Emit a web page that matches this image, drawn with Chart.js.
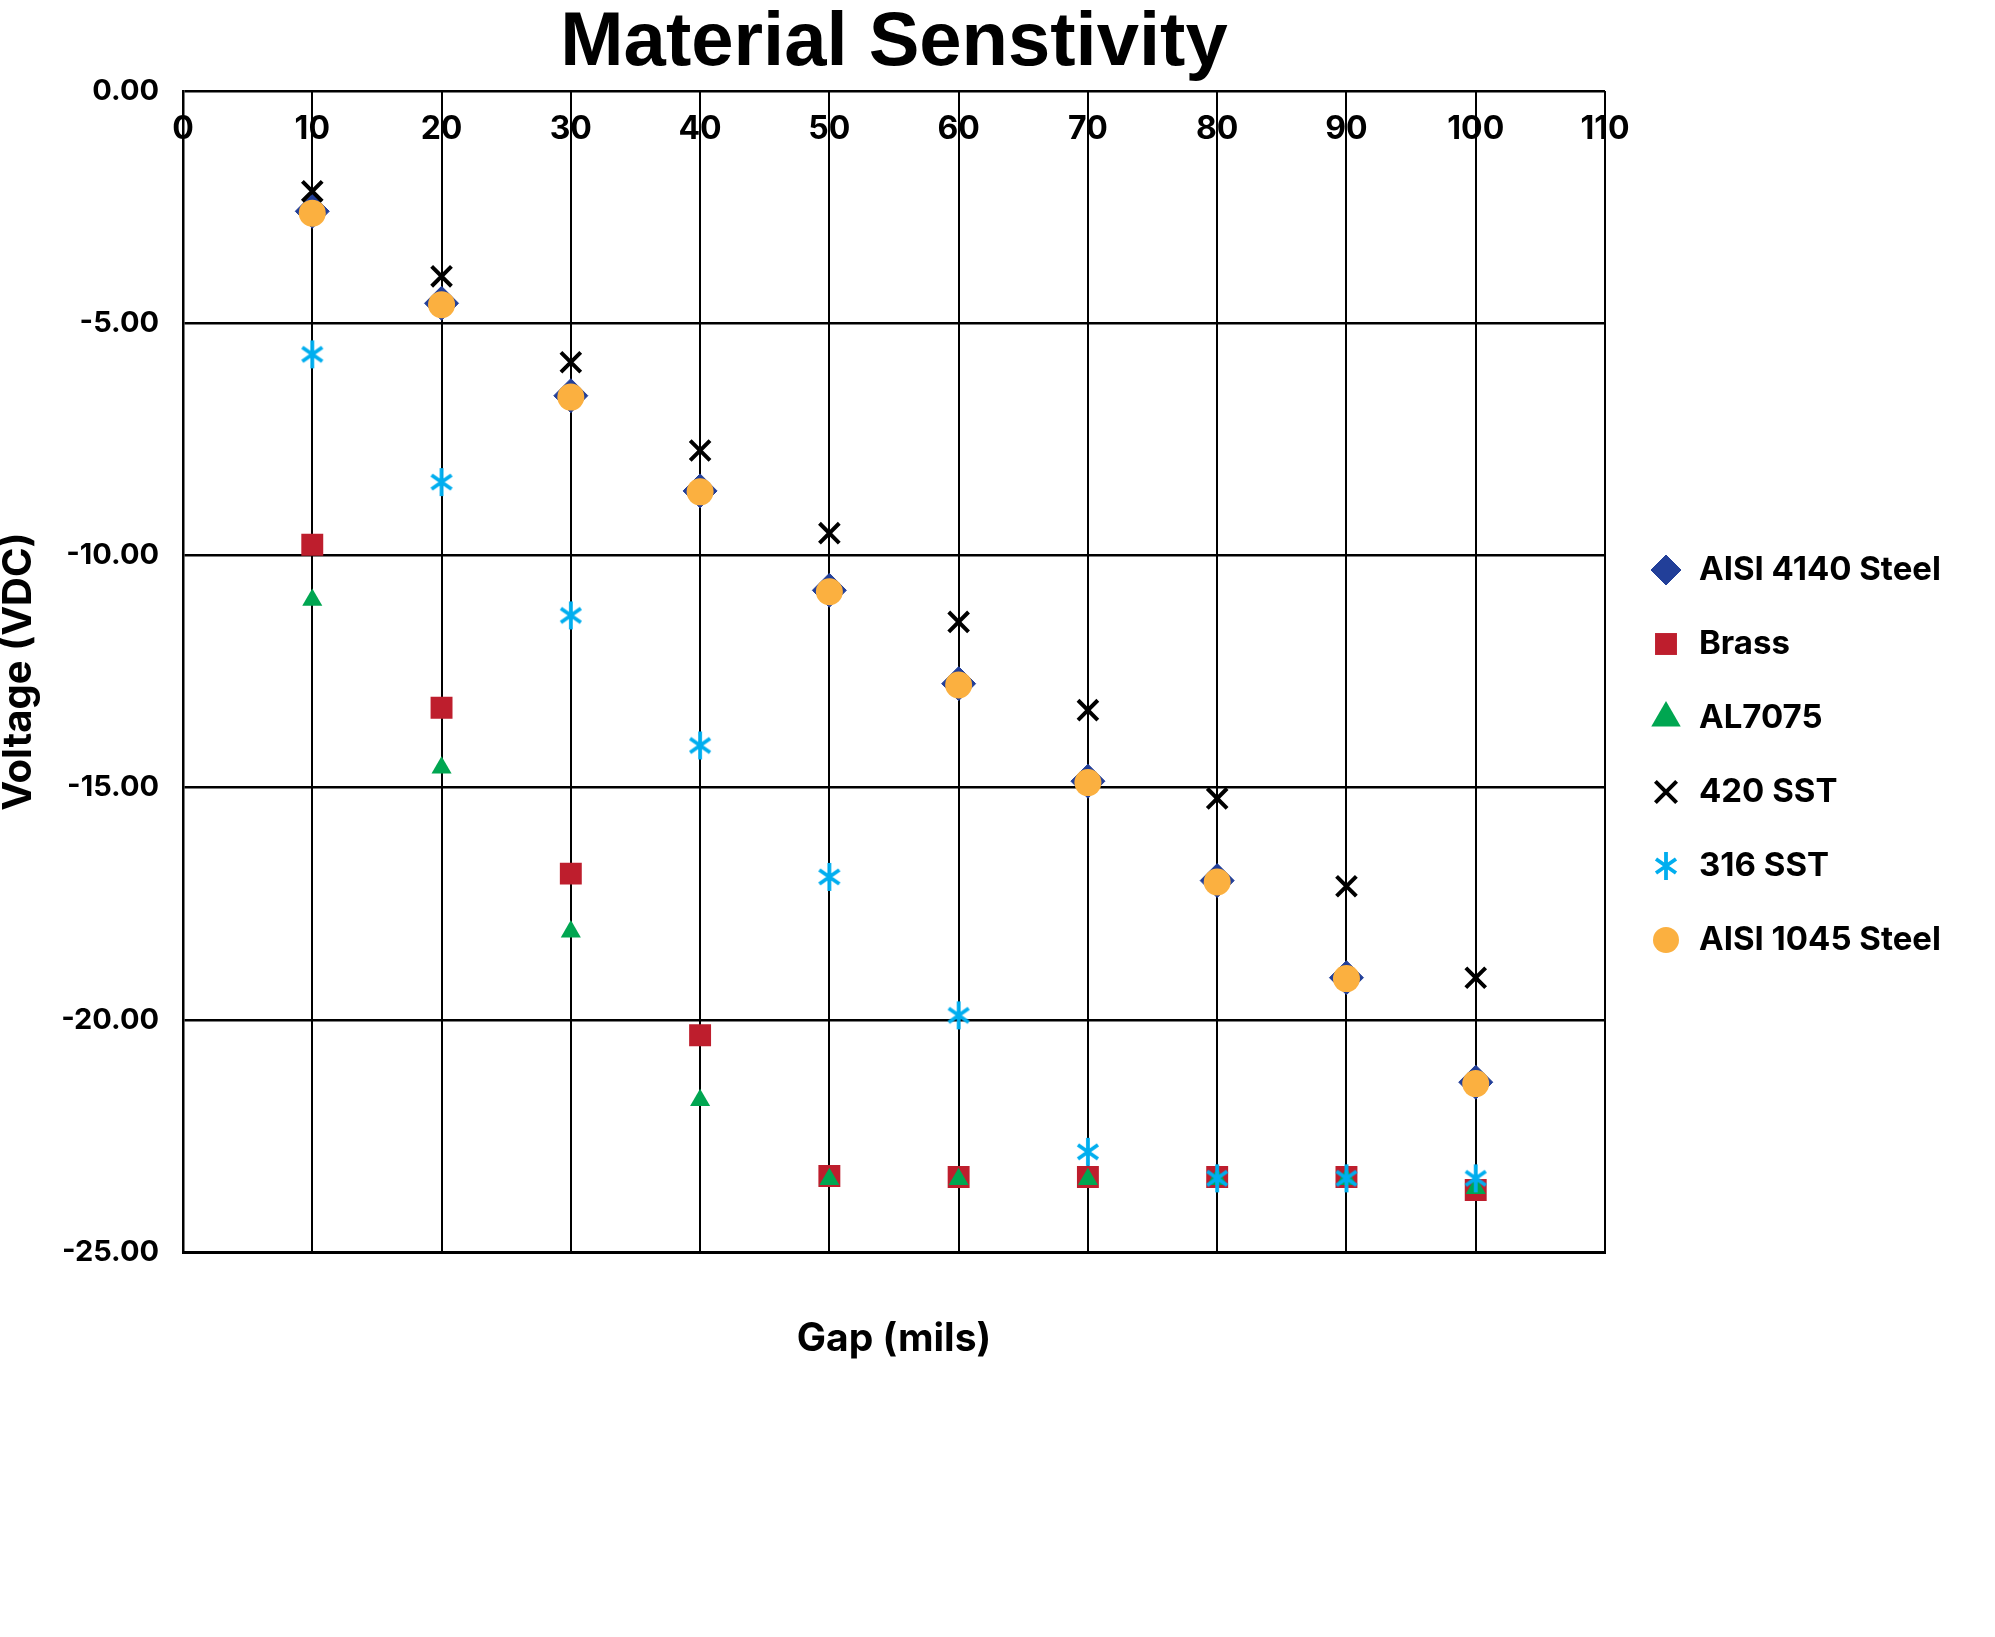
<!DOCTYPE html>
<html>
<head>
<meta charset="utf-8">
<title>Material Senstivity</title>
<script src="https://cdn.jsdelivr.net/npm/chart.js@4.4.1/dist/chart.umd.min.js"></script>
<style>
    html, body { margin: 0; padding: 0; background: #fff; }
    #wrap { width: 1995px; height: 1637px; }
</style>
</head>
<body>
<div id="wrap"><canvas id="chart"></canvas></div>
<script>
// Gap (mils) for every reading
const gapMils = [10, 20, 30, 40, 50, 60, 70, 80, 90, 100];

// Voltage (VDC), one array per target material
const aisi4140 = [-2.59, -4.57, -6.56, -8.61, -10.75, -12.76, -14.86, -17.00, -19.09, -21.34];
const brass    = [-9.77, -13.28, -16.85, -20.33, -23.36, -23.38, -23.38, -23.38, -23.38, -23.66];
const al7075   = [-10.96, -14.57, -18.10, -21.73, -23.43, -23.43, -23.43, -23.43, -23.43, -23.62];
const sst420   = [-2.16, -3.99, -5.84, -7.74, -9.52, -11.43, -13.33, -15.23, -17.12, -19.09];
const sst316   = [-5.67, -8.42, -11.29, -14.09, -16.92, -19.90, -22.84, -23.41, -23.41, -23.41];
const aisi1045 = [-2.63, -4.60, -6.59, -8.63, -10.78, -12.79, -14.89, -17.03, -19.11, -21.37];

const seriesNames = ['AISI 4140 Steel', 'Brass', 'AL7075', '420 SST', '316 SST', 'AISI 1045 Steel'];

// Axis ranges
const gapMin = 0, gapMax = 110, gapStep = 10;
const voltMin = -25, voltMax = 0, voltStep = 5;

function toPoints(values) {
    return values.map((v, i) => ({ x: gapMils[i], y: v }));
}

// Excel style asterisk marker (vertical bar + X)
function makeAsterisk(color) {
    const c = document.createElement('canvas');
    c.width = 32;
    c.height = 32;
    const g = c.getContext('2d');
    g.strokeStyle = color;
    g.lineWidth = 3.8;
    g.beginPath();
    g.moveTo(16, 2); g.lineTo(16, 30);
    g.moveTo(6, 9); g.lineTo(26, 23);
    g.moveTo(26, 9); g.lineTo(6, 23);
    g.stroke();
    return c;
}
const asteriskMarker = makeAsterisk('#00AEEF');

// x tick labels sit inside the plot, just under the top edge
const insideTicks = {
    id: 'insideTicks',
    beforeDraw(chart, args, opts) {
        const xs = chart.scales.x;
        const ctx = chart.ctx;
        ctx.save();
        ctx.font = 'bold 32px Inter';
        ctx.fillStyle = '#000';
        ctx.textAlign = 'center';
        ctx.textBaseline = 'middle';
        xs.ticks.forEach(t => {
            ctx.fillText(String(t.value), xs.getPixelForValue(t.value), chart.chartArea.top + opts.offset);
        });
        ctx.restore();
    }
};

// Legend on the right, drawn with the datasets' own marker styles
const sideLegend = {
    id: 'sideLegend',
    afterDraw(chart, args, opts) {
        const ctx = chart.ctx;
        const area = chart.chartArea;
        const drawPoint = Chart.helpers && Chart.helpers.drawPoint;
        ctx.save();
        chart.data.datasets.forEach((ds, i) => {
            const x = area.right + opts.markerOffset;
            const y = opts.top + i * opts.rowGap;
            ctx.fillStyle = ds.backgroundColor;
            ctx.strokeStyle = ds.borderColor;
            ctx.lineWidth = ds.pointBorderWidth;
            if (drawPoint) {
                drawPoint(ctx, {
                    pointStyle: ds.pointStyle,
                    radius: opts.radii[i],
                    rotation: 0,
                    borderWidth: ds.pointBorderWidth
                }, x, y);
            }
            ctx.fillStyle = '#000';
            ctx.font = 'bold 33px Inter';
            ctx.textAlign = 'left';
            ctx.textBaseline = 'middle';
            ctx.fillText(ds.label, x + opts.textGap, y);
        });
        ctx.restore();
    }
};

const ctx = document.getElementById('chart').getContext('2d');

const chart = new Chart(ctx, {
    type: 'scatter',
    data: {
        datasets: [{
            label: seriesNames[0],
            data: toPoints(aisi4140),
            pointStyle: 'rectRot',
            pointRadius: 17,
            pointBorderWidth: 1,
            backgroundColor: '#223F99',
            borderColor: '#223F99',
            order: 5
        }, {
            label: seriesNames[1],
            data: toPoints(brass),
            pointStyle: 'rect',
            pointRadius: 15.5,
            pointBorderWidth: 0,
            backgroundColor: '#BE1E2D',
            borderColor: '#BE1E2D',
            order: 4
        }, {
            label: seriesNames[2],
            data: toPoints(al7075),
            pointStyle: 'triangle',
            pointRadius: 11.6,
            pointBorderWidth: 0,
            backgroundColor: '#00A651',
            borderColor: '#00A651',
            order: 3
        }, {
            label: seriesNames[3],
            data: toPoints(sst420),
            pointStyle: 'crossRot',
            pointRadius: 14,
            pointBorderWidth: 4,
            backgroundColor: '#000',
            borderColor: '#000',
            order: 1
        }, {
            label: seriesNames[4],
            data: toPoints(sst316),
            pointStyle: asteriskMarker,
            pointRadius: 14,
            pointBorderWidth: 3.5,
            backgroundColor: '#00AEEF',
            borderColor: '#00AEEF',
            order: 2
        }, {
            label: seriesNames[5],
            data: toPoints(aisi1045),
            pointStyle: 'circle',
            pointRadius: 13.5,
            pointBorderWidth: 0,
            backgroundColor: '#FBB040',
            borderColor: '#FBB040',
            order: 0
        }]
    },
    options: {
        responsive: true,
        maintainAspectRatio: false,
        animation: false,
        events: [],
        layout: {
            padding: { left: 0, right: 390, top: 0, bottom: 274 }
        },
        scales: {
            x: {
                type: 'linear',
                position: 'bottom',
                min: gapMin,
                max: gapMax,
                ticks: { stepSize: gapStep, display: false },
                grid: { color: '#000', lineWidth: 2, drawTicks: false },
                border: { color: '#000', width: 3 },
                title: {
                    display: true,
                    text: 'Gap (mils)',
                    color: '#000',
                    font: { family: 'Inter', size: 39, weight: 'bold', lineHeight: 1.2 },
                    padding: { top: 64, bottom: 0 }
                }
            },
            y: {
                type: 'linear',
                min: voltMin,
                max: voltMax,
                afterFit: (scale) => { scale.width = 183; },
                ticks: {
                    stepSize: voltStep,
                    padding: 24,
                    color: '#000',
                    font: { family: 'Inter', size: 29, weight: 'bold' },
                    callback: (v) => v.toFixed(2)
                },
                grid: { color: '#000', lineWidth: 2.5, drawTicks: false },
                border: { color: '#000', width: 2.5 },
                title: {
                    display: true,
                    text: 'Voltage (VDC)',
                    color: '#000',
                    font: { family: 'Inter', size: 40, weight: 'bold', lineHeight: 0.95 },
                    padding: 0
                }
            }
        },
        plugins: {
            title: {
                display: true,
                fullSize: false,
                text: 'Material Senstivity',
                color: '#000',
                font: { family: 'Liberation Sans', size: 76, weight: 'bold', lineHeight: 1 },
                padding: { top: 6, bottom: 9 }
            },
            legend: { display: false },
            tooltip: { enabled: false },
            insideTicks: { offset: 38 },
            sideLegend: {
                markerOffset: 61,
                textGap: 33,
                top: 570,
                rowGap: 74,
                radii: [15, 15.5, 17, 15, 14, 13]
            }
        }
    },
    plugins: [insideTicks, sideLegend]
});
</script>
</body>
</html>
